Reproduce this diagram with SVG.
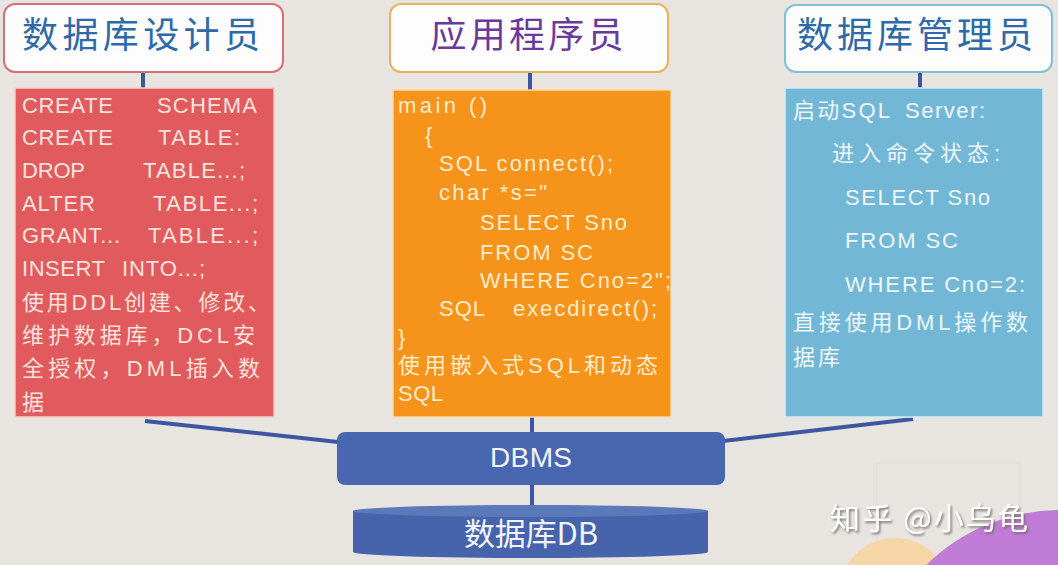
<svg xmlns="http://www.w3.org/2000/svg" width="1058" height="565" viewBox="0 0 1058 565">
<defs>
<style>
.hd{fill:#fdfdfd;stroke-width:2}
.ht{font-family:"Noto Sans CJK SC","Noto Sans",sans-serif;font-size:36px;text-anchor:middle}
.bt{font-family:"Liberation Sans","Noto Sans CJK SC",sans-serif;font-size:22px}
.red{fill:#f9e3dc}
.org{fill:#fdeccb}
.blu{fill:#eef6f8}
.con{stroke:#3e56a2;stroke-width:4;fill:none;stroke-linecap:butt}
.wt{font-family:"Noto Sans CJK SC",sans-serif;font-size:30px;fill:#ffffff}
</style>
<filter id="sh" x="-10%" y="-30%" width="120%" height="160%">
<feDropShadow dx="1.5" dy="1.8" stdDeviation="0.8" flood-color="#6e6a66" flood-opacity="0.9"/>
</filter>
</defs>
<rect x="0" y="0" width="1058" height="565" fill="#e8e4e0"/>
<rect x="877" y="463" width="143" height="100" fill="none" stroke="#e0dbd6" stroke-width="1"/>

<g id="connectors">
<line class="con" x1="143" y1="72" x2="143" y2="89"/>
<line class="con" x1="530" y1="72" x2="530" y2="90"/>
<line class="con" x1="920" y1="72" x2="920" y2="88"/>
<line class="con" x1="145" y1="421" x2="338" y2="442"/>
<line class="con" x1="913" y1="419" x2="723" y2="441"/>
<line class="con" x1="532" y1="417" x2="532" y2="433"/>
<line class="con" x1="532" y1="485" x2="532" y2="506"/>
</g>

<g id="header-designer">
<rect class="hd" x="4" y="4" width="279" height="68" rx="11" stroke="#d86f78"/>
<text class="ht" x="141" y="48" fill="#2e6aa8" textLength="238" lengthAdjust="spacing">数据库设计员</text>
</g>
<g id="header-programmer">
<rect class="hd" x="390" y="4" width="278" height="68" rx="11" stroke="#e9b35e"/>
<text class="ht" x="527" y="48" fill="#6a3a9a" textLength="193" lengthAdjust="spacing">应用程序员</text>
</g>
<g id="header-admin">
<rect class="hd" x="785" y="5" width="267" height="67" rx="11" stroke="#7fc0d8"/>
<text class="ht" x="915" y="48" fill="#2e6aa8" textLength="236" lengthAdjust="spacing">数据库管理员</text>
</g>

<g id="box-designer">
<rect x="15" y="88" width="259" height="329" fill="#e15a5e" stroke="#f4cfc6" stroke-width="1.5"/>
<g class="bt red">
<text x="22" y="113" textLength="91" lengthAdjust="spacing">CREATE</text>
<text x="157" y="113" textLength="100" lengthAdjust="spacing">SCHEMA</text>
<text x="22" y="145" textLength="91" lengthAdjust="spacing">CREATE</text>
<text x="158" y="145" textLength="82" lengthAdjust="spacing">TABLE:</text>
<text x="22" y="178" textLength="63" lengthAdjust="spacing">DROP</text>
<text x="143" y="178" textLength="102" lengthAdjust="spacing">TABLE...;</text>
<text x="22" y="211" textLength="73" lengthAdjust="spacing">ALTER</text>
<text x="153" y="211" textLength="105" lengthAdjust="spacing">TABLE...;</text>
<text x="22" y="243" textLength="98" lengthAdjust="spacing">GRANT...</text>
<text x="148" y="243" textLength="110" lengthAdjust="spacing">TABLE...;</text>
<text x="22" y="276" textLength="83" lengthAdjust="spacing">INSERT</text>
<text x="122" y="276" textLength="83" lengthAdjust="spacing">INTO...;</text>
<text x="22" y="310" textLength="248" lengthAdjust="spacing">使用DDL创建、修改、</text>
<text x="22" y="343" textLength="233" lengthAdjust="spacing">维护数据库，DCL安</text>
<text x="22" y="376" textLength="238" lengthAdjust="spacing">全授权，DML插入数</text>
<text x="22" y="410">据</text>
</g>
</g>

<g id="box-programmer">
<rect x="393" y="90" width="278" height="327" fill="#f6931a" stroke="#fbd9a6" stroke-width="1.5"/>
<g class="bt org">
<text x="398" y="113" textLength="89" lengthAdjust="spacing">main ()</text>
<text x="425" y="143">{</text>
<text x="439" y="171" textLength="174" lengthAdjust="spacing">SQL connect();</text>
<text x="439" y="200" textLength="108" lengthAdjust="spacing">char *s="</text>
<text x="480" y="230" textLength="147" lengthAdjust="spacing">SELECT Sno</text>
<text x="480" y="260" textLength="113" lengthAdjust="spacing">FROM SC</text>
<text x="480" y="288" textLength="191" lengthAdjust="spacing">WHERE Cno=2";</text>
<text x="439" y="316" textLength="46" lengthAdjust="spacing">SQL</text>
<text x="513" y="316" textLength="144" lengthAdjust="spacing">execdirect();</text>
<text x="398" y="345">}</text>
<text x="398" y="373" textLength="260" lengthAdjust="spacing">使用嵌入式SQL和动态</text>
<text x="398" y="401" textLength="45" lengthAdjust="spacing">SQL</text>
</g>
</g>

<g id="box-admin">
<rect x="785" y="88" width="258" height="329" fill="#72b8d6" stroke="#d2ebf3" stroke-width="1.5"/>
<g class="bt blu">
<text x="793" y="118" textLength="97" lengthAdjust="spacing">启动SQL</text>
<text x="905" y="118" textLength="80" lengthAdjust="spacing">Server:</text>
<text x="832" y="161" textLength="168" lengthAdjust="spacing">进入命令状态:</text>
<text x="845" y="205" textLength="145" lengthAdjust="spacing">SELECT Sno</text>
<text x="845" y="248" textLength="113" lengthAdjust="spacing">FROM SC</text>
<text x="845" y="292" textLength="180" lengthAdjust="spacing">WHERE Cno=2:</text>
<text x="793" y="330" textLength="235" lengthAdjust="spacing">直接使用DML操作数</text>
<text x="793" y="365" textLength="47" lengthAdjust="spacing">据库</text>
</g>
</g>

<g id="dbms">
<rect x="337" y="432" width="388" height="53" rx="8" fill="#4967b0"/>
<text x="531" y="467" font-family="Liberation Sans, sans-serif" font-size="28" fill="#f2f4fa" text-anchor="middle" textLength="82" lengthAdjust="spacing">DBMS</text>
</g>

<g id="database">
<path d="M353,511 L353,552 A177.5,6 0 0 0 708,552 L708,511 Z" fill="#4564ab"/>
<ellipse cx="530.5" cy="511" rx="177.5" ry="6" fill="#5b79b9"/>
<text x="531" y="545" font-family="Noto Sans CJK SC, Liberation Sans, sans-serif" font-size="31" fill="#f2f4fa" text-anchor="middle" textLength="134" lengthAdjust="spacing">数据库DB</text>
</g>

<circle cx="895" cy="594" r="56" fill="#f6d6a6"/>
<circle cx="1060" cy="700" r="190" fill="#c07bd6"/>
<text class="wt" x="830" y="529" filter="url(#sh)" textLength="198" lengthAdjust="spacing">知乎 @小乌龟</text>
</svg>
